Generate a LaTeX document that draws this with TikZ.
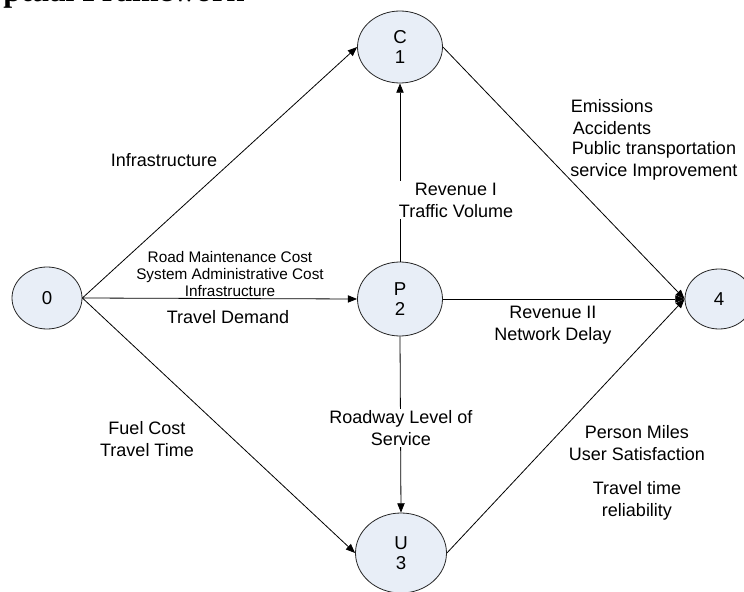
\documentclass[tikz,border=0pt]{standalone}
\usepackage{fontspec}
\setmainfont{Liberation Sans}
\newfontfamily\titleserif{Liberation Serif}
\usepackage{xcolor}
\usetikzlibrary{shapes.geometric,arrows.meta}

\definecolor{nodefill}{RGB}{232,238,247}
\tikzset{
  state/.style={ellipse, draw=black!85, fill=nodefill, line width=0.6pt, inner sep=0pt,
    align=center, font=\fontsize{14}{15}\selectfont},
  flow/.style={line width=0.6pt, -{Triangle[length=7pt,width=5.5pt]}},
  lbl/.style={align=center, inner sep=1pt, font=\fontsize{13.5}{16.5}\selectfont},
  smalllbl/.style={align=center, inner sep=1pt, font=\fontsize{11.5}{12.75}\selectfont},
}

\begin{document}
\begin{tikzpicture}[x=0.75pt, y=-0.75pt]
  \useasboundingbox (0,0) rectangle (744,592);
  \clip (0,0) rectangle (744,592);

  % Title (cut off at the top edge)
  \node[anchor=base west, inner sep=0pt, font=\titleserif\bfseries\fontsize{24}{28}\selectfont] (title) at (3,2) {ptual Framework};

  % States
  \node[state, minimum width=52.5pt, minimum height=46.5pt] (n0) at (47,298) {0};
  \node[state, minimum width=63.75pt, minimum height=54pt] (c1) at (400,47) {C\\1};
  \node[state, minimum width=63.75pt, minimum height=55.5pt] (p2) at (400,299) {P\\2};
  \node[state, minimum width=68.25pt, minimum height=60pt] (u3) at (401,553) {U\\3};
  \node[state, minimum width=51pt, minimum height=45pt] (n4) at (719,299) {4};

  % Flows
  \draw[flow] (n0.east) -- (c1.west);
  \draw[flow] (n0.east) -- (p2.west);
  \draw[flow] (n0.east) -- (u3.west);
  \draw[flow] (p2.north) -- (c1.south);
  \draw[flow] (p2.south) -- (u3.north);
  \draw[flow] (p2.east) -- (n4.west);
  \draw[flow] (c1.east) -- (n4.west);
  \draw[flow] (u3.east) -- (n4.west);

  % Flow labels
  \node[lbl] (infra) at (164,160) {Infrastructure};
  \node[lbl, fill=white] (rev1) at (456,200) {Revenue I\\Traffic Volume};
  \node[lbl] (emis) at (612,117) {Emissions\\Accidents};
  \node[lbl] (public) at (654,161) {Public transportation\\service Improvement};
  \node[smalllbl] (costs) at (230,274) {Road Maintenance Cost\\System Administrative Cost\\Infrastructure};
  \node[lbl] (demand) at (228,317) {Travel Demand};
  \node[lbl] (rev2) at (553,325) {Revenue II\\Network Delay};
  \node[lbl] (fuel) at (147,439) {Fuel Cost\\Travel Time};
  \node[lbl, fill=white] (los) at (401,428) {Roadway Level of\\Service};
  \node[lbl] (miles) at (637,443) {Person Miles\\User Satisfaction};
  \node[lbl] (relia) at (637,501) {Travel time\\reliability};
\end{tikzpicture}
\end{document}
